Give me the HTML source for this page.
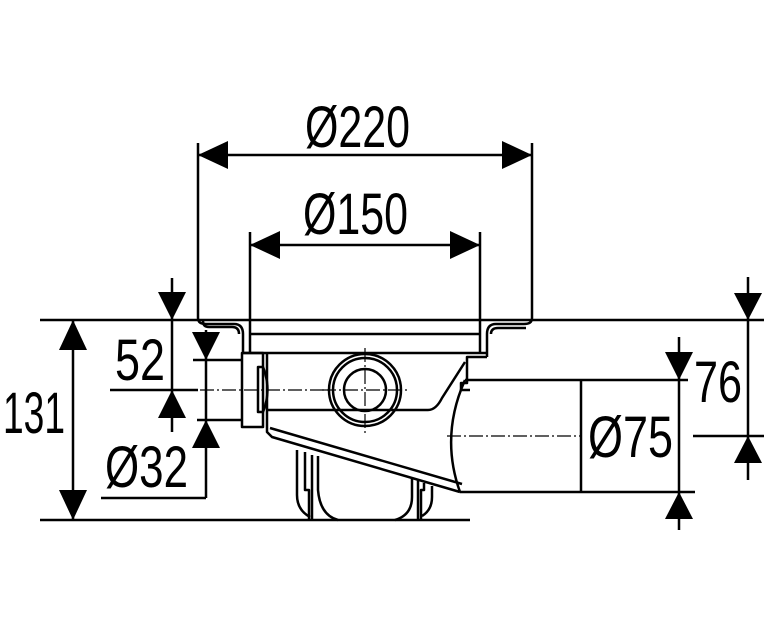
<!DOCTYPE html>
<html><head><meta charset="utf-8"><style>
html,body{margin:0;padding:0;background:#fff}
svg{display:block}
text{font-family:"Liberation Sans",sans-serif;fill:#000}
</style></head><body>
<svg width="764" height="626" viewBox="0 0 764 626" xmlns="http://www.w3.org/2000/svg">
<g stroke="#000" stroke-width="2.5" fill="none" stroke-linejoin="round">
<!-- reference lines -->
<line x1="40" y1="320" x2="764" y2="320"/>
<line x1="40" y1="520" x2="470" y2="520"/>
<!-- flange -->
<path d="M198,143 V318 Q198,324 206,324 H234 Q243,324 243,334 V353"/>
<path d="M203,320 V321 Q203,327 209,327 H232 Q239,327 239,334"/>
<path d="M532,143 V318 Q532,324 524,324 H496 Q487,324 487,334 V357"/>
<path d="M491,334 Q491,328 498,328 H526"/>
<line x1="250" y1="232" x2="250" y2="353"/>
<line x1="480" y1="232" x2="480" y2="353"/>
<line x1="250" y1="334" x2="480" y2="334"/>
<line x1="243" y1="353" x2="487" y2="353"/>
<!-- right bracket -->
<path d="M487,357 H467 V383 H461 V390 H470"/>
<!-- left outlet -->
<rect x="242" y="353" width="21" height="74"/>
<path d="M263,367 H258 V412 H263"/>
<path d="M263,367 Q272,390 263,412"/>
<!-- body -->
<path d="M267,353 V432 L272,437 L460,492"/>
<line x1="270" y1="428" x2="462" y2="484"/>
<path d="M267,410 H428 Q436,410 442,398 L465,362"/>
<!-- circle -->
<circle cx="365" cy="390" r="36"/>
<circle cx="365" cy="390" r="32"/>
<circle cx="365" cy="390" r="21"/>
<!-- pipe -->
<line x1="465" y1="380" x2="581" y2="380"/>
<line x1="460" y1="492" x2="581" y2="492"/>
<line x1="581" y1="380" x2="581" y2="492"/>
<path d="M465,380 Q440,436 460,492"/>
<!-- trap -->
<path d="M297,450 V495 Q297,510 310,517"/>
<path d="M305,452 V490 H309 V520"/>
<path d="M312,455 V520"/>
<path d="M318,456 V490 Q320,515 338,520"/>
<path d="M412,478 V497 Q412,515 395,520"/>
<path d="M418,480 V520"/>
<path d="M424,483 V490 H421 V520"/>
<path d="M432,486 V497 Q432,510 422,516"/>
<!-- dims -->
<line x1="198" y1="155" x2="532" y2="155"/>
<line x1="250" y1="245" x2="480" y2="245"/>
<line x1="73" y1="320" x2="73" y2="520"/>
<line x1="172" y1="278" x2="172" y2="432"/>
<line x1="110" y1="390" x2="198" y2="390"/>
<line x1="206" y1="330" x2="206" y2="498"/>
<line x1="101" y1="498" x2="206" y2="498"/>
<line x1="193" y1="360" x2="242" y2="360"/>
<line x1="197" y1="420" x2="242" y2="420"/>
<line x1="748" y1="277" x2="748" y2="480"/>
<line x1="693" y1="436" x2="764" y2="436"/>
<line x1="679" y1="337" x2="679" y2="530"/>
<line x1="581" y1="380" x2="688" y2="380"/>
<line x1="581" y1="492" x2="695" y2="492"/>
</g>
<g stroke="#000" stroke-width="1.2" fill="none" stroke-dasharray="14,3,2,3">
<line x1="200" y1="390" x2="330" y2="390"/>
<line x1="322" y1="390" x2="408" y2="390"/>
<line x1="365" y1="348" x2="365" y2="433"/>
<line x1="447" y1="436" x2="581" y2="436"/>
</g>
<g fill="#000">
<polygon points="198,155 228,141 228,169"/>
<polygon points="532,155 502,141 502,169"/>
<polygon points="250,245 280,231 280,259"/>
<polygon points="480,245 450,231 450,259"/>
<polygon points="73,320 59,350 87,350"/>
<polygon points="73,520 59,490 87,490"/>
<polygon points="172,320 158,292 186,292"/>
<polygon points="172,390 158,418 186,418"/>
<polygon points="206,360 192,332 220,332"/>
<polygon points="206,420 192,448 220,448"/>
<polygon points="748,320 734,293 762,293"/>
<polygon points="748,436 734,463 762,463"/>
<polygon points="679,380 665,352 693,352"/>
<polygon points="679,492 665,519 693,519"/>
</g>
<g font-size="58">
<text x="305" y="147" textLength="105" lengthAdjust="spacingAndGlyphs">Ø220</text>
<text x="303" y="234" textLength="105" lengthAdjust="spacingAndGlyphs">Ø150</text>
<text x="3" y="433" textLength="62" lengthAdjust="spacingAndGlyphs">131</text>
<text x="115" y="380" textLength="50" lengthAdjust="spacingAndGlyphs">52</text>
<text x="105" y="487" textLength="83" lengthAdjust="spacingAndGlyphs">Ø32</text>
<text x="694" y="402" textLength="48" lengthAdjust="spacingAndGlyphs">76</text>
<text x="588" y="457" textLength="85" lengthAdjust="spacingAndGlyphs">Ø75</text>
</g>
</svg>
</body></html>
